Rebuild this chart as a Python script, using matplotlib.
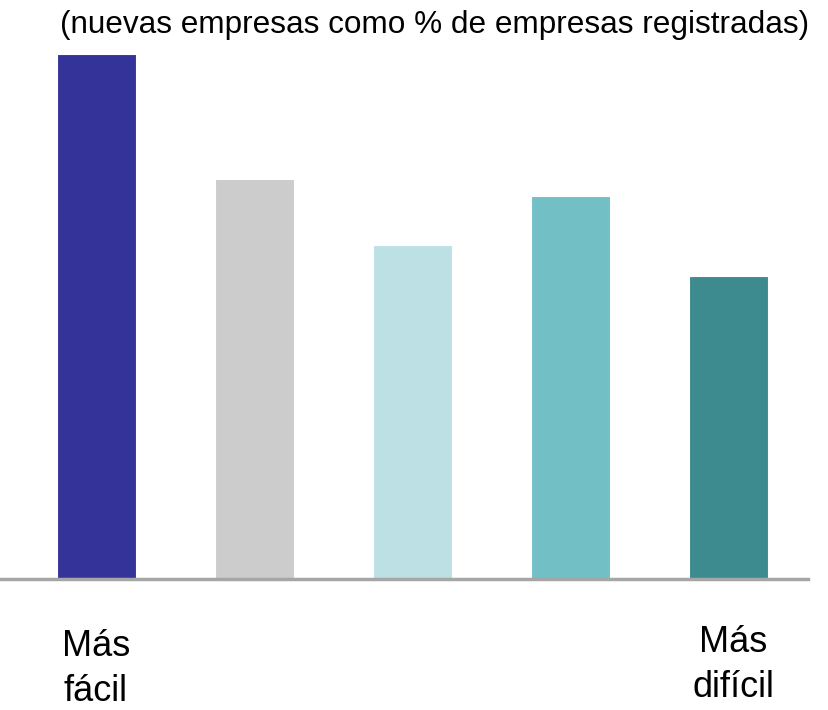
import matplotlib
matplotlib.use("Agg")
import matplotlib.pyplot as plt

plt.rcParams['font.family'] = ['Liberation Sans', 'DejaVu Sans']

# bars ordered from easiest to hardest (no value axis in the original)
categories = ["1", "2", "3", "4", "5"]
values = [5.24, 3.99, 3.33, 3.82, 3.02]
colors = ["#333399", "#cccccc", "#bde0e5", "#73bfc6", "#3d8b8f"]

title = "(nuevas empresas como % de empresas registradas)"
left_label = "Más\nfácil"
right_label = "Más\ndifícil"

fig = plt.figure(figsize=(8.29, 7.10), dpi=100)
W, H = 829, 710

# axes spans x 0..808 px, y baseline 579 px up to 54 px
ax = fig.add_axes([0, (H - 579) / H, 808 / W, (579 - 54) / H])
x = range(len(categories))
ax.bar(x, values, width=0.5, color=colors, edgecolor="white", linewidth=0.8, zorder=2)
ax.set_xlim(-0.61, 4.50)
ax.set_ylim(0, max(values))
ax.axhline(0, color="#a6a6a6", linewidth=2.5, zorder=3, clip_on=False)
ax.axis("off")

fig.text(435 / W, 1 - 25 / H, title, ha="center", va="center", fontsize=22.7)
fig.text(96 / W, 1 - 669 / H, left_label, ha="center", va="center",
         fontsize=26, linespacing=1.35)
fig.text(733 / W, 1 - 665 / H, right_label, ha="center", va="center",
         fontsize=26, linespacing=1.35)

fig.savefig("out.png", dpi=100)
